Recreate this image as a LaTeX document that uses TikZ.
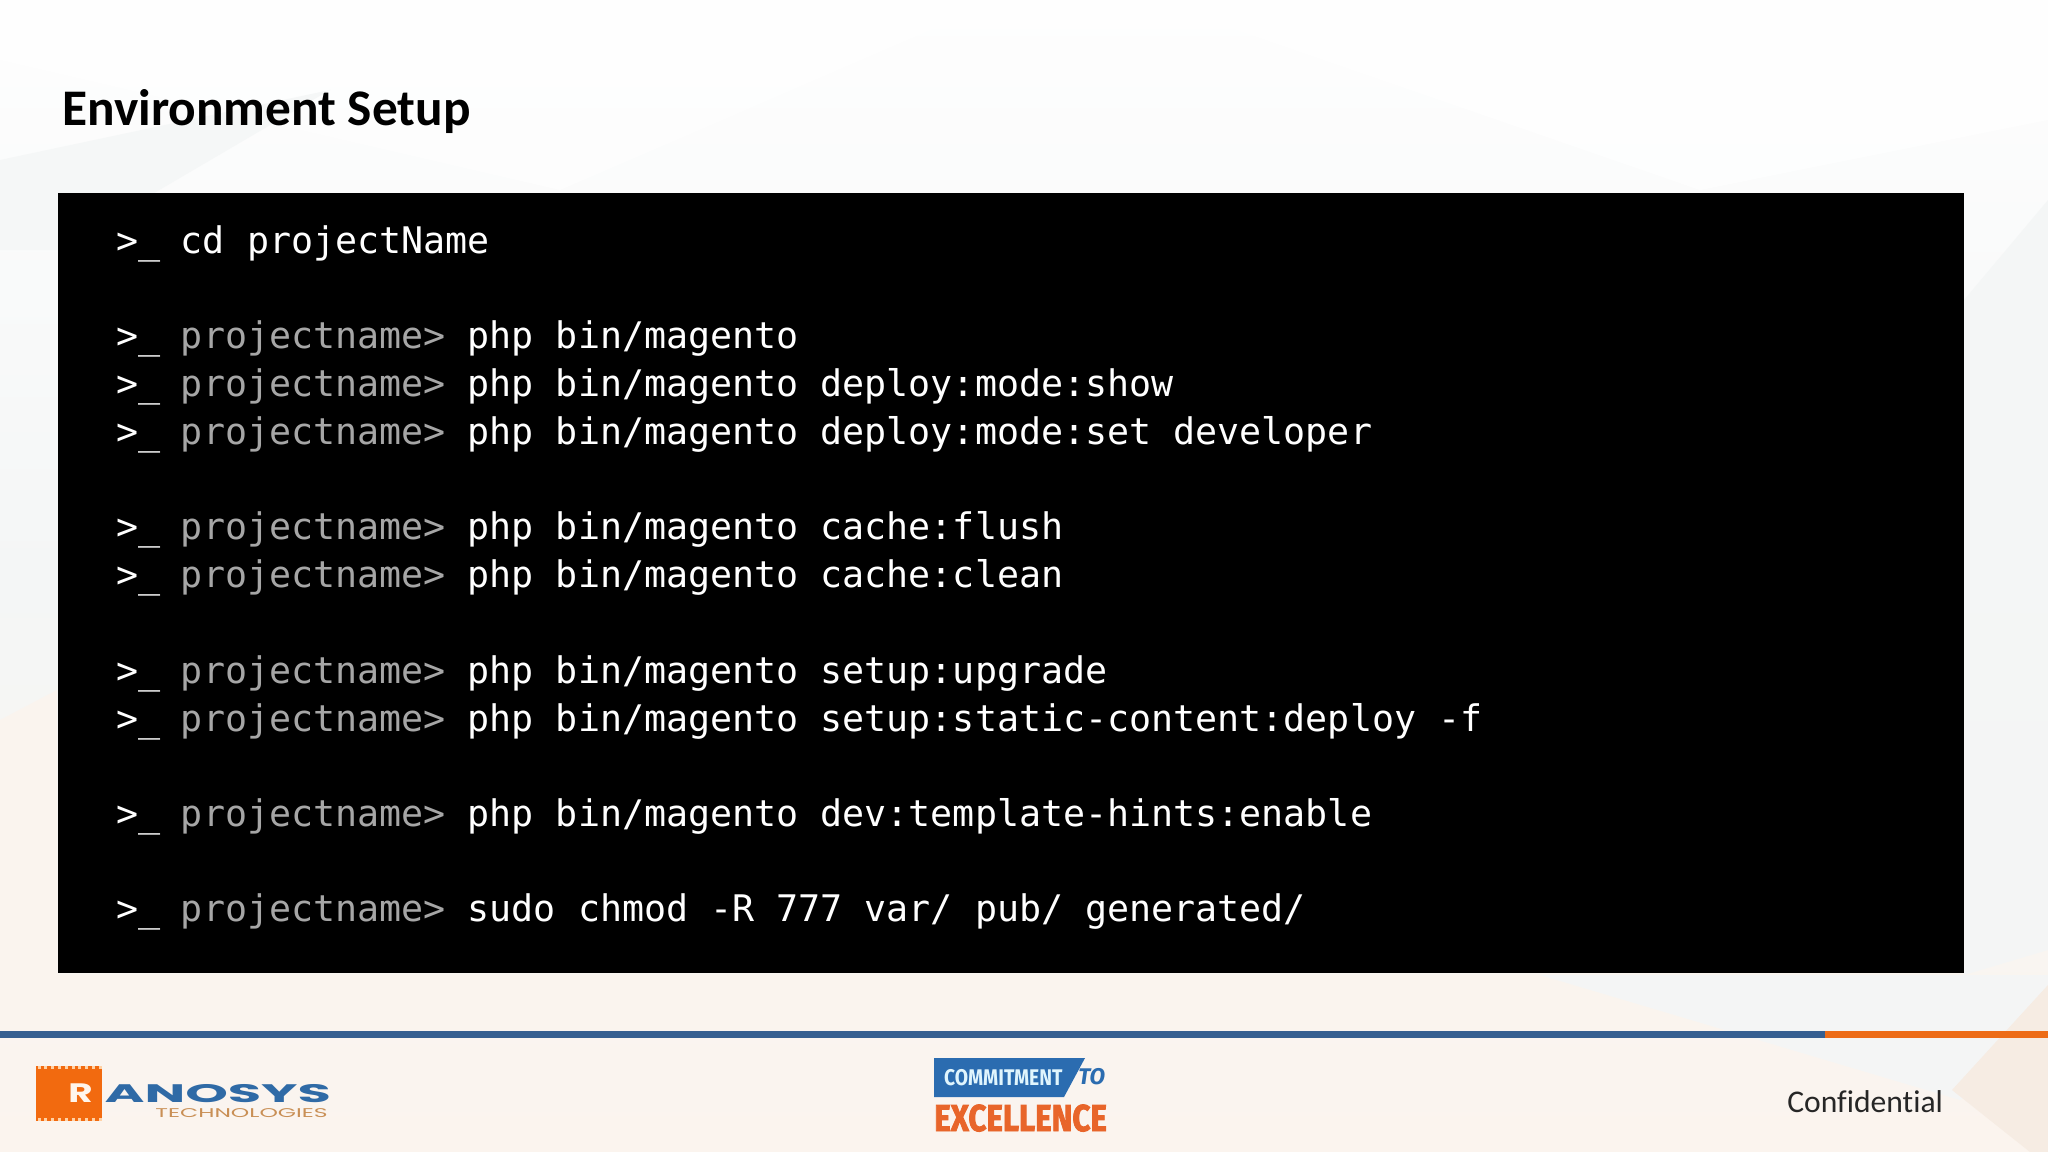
\documentclass[tikz,border=0pt]{standalone}
\usepackage{fontspec}
\setmainfont[Ligatures=NoCommon]{Carlito}
\newfontfamily\codefont{DejaVu Sans Mono}
\newfontfamily\logofont{Poppins}
\newfontfamily\heavyfont{Fira Sans}
\newfontfamily\fatfont[FakeBold=2.5]{Fira Sans}
\definecolor{promptgrey}{HTML}{A6A6A6}
\definecolor{barblue}{HTML}{365F91}
\definecolor{barorange}{HTML}{ED6C17}
\definecolor{logoorange}{HTML}{F26A0F}
\definecolor{logoblue}{HTML}{2F6AA6}
\definecolor{logotan}{HTML}{C98F55}
\definecolor{badgeblue}{HTML}{2B6CB0}
\definecolor{badgeorange}{HTML}{E8652A}
\definecolor{bgtop}{HTML}{FEFEFE}
\definecolor{bgmid}{HTML}{F4F6F6}
\definecolor{bgbot}{HTML}{FBF4EE}
\definecolor{bgpeach}{HTML}{F6ECE3}
\newcommand{\promptmark}{\hspace{1.5pt}>\_\hspace{-1.5pt}}
\newcommand{\cmdline}[3]{%
  \node[codeline] (#1) at (114.5,#2) {\textcolor{white}{\promptmark} \textcolor{promptgrey}{projectname>} #3};}
\tikzset{
  codeline/.style={anchor=base west,inner sep=0pt,text=white,font=\codefont\fontsize{27.48pt}{33pt}\selectfont},
  facet/.style={draw=none,fill=#1},
}
\begin{document}
\begin{tikzpicture}[x=0.75pt,y=-0.75pt]
\useasboundingbox (0,0) rectangle (2048,1152);
\shade[top color=bgtop,bottom color=bgbot,middle color=bgmid,shading angle=0] (0,0) rectangle (2048,1152);
% pale background facets
\fill[facet=white,opacity=.6] (0,0) -- (1000,0) -- (560,190) -- (0,60) -- cycle;
\fill[facet=white,opacity=.7] (1150,0) -- (2048,0) -- (2048,120) -- (1700,190) -- cycle;
\fill[facet=bgmid,opacity=.8] (0,160) -- (330,90) -- (57,250) -- (0,250) -- cycle;
\fill[facet=bgbot,opacity=.9] (0,720) -- (57,690) -- (57,1000) -- (0,1000) -- cycle;
\fill[facet=bgbot,opacity=.8] (0,975) rectangle (2048,1030);
\fill[facet=bgmid,opacity=.9] (1540,975) -- (2048,975) -- (2048,1040) -- (1960,1100) -- cycle;
\fill[facet=bgmid,opacity=.9] (1964,300) -- (2048,200) -- (2048,950) -- (1964,975) -- cycle;
\fill[facet=bgpeach] (2048,985) -- (2048,1152) -- (2030,1152) -- (1952,1090) -- cycle;
% title
\node[anchor=base west,inner sep=0pt,font=\bfseries\fontsize{38.5pt}{46pt}\selectfont,text=black] (title) at (62,126) {Environment Setup};
% terminal panel
\node[draw=none,fill=black,minimum width=1906.5*0.75pt,minimum height=780*0.75pt,anchor=north west,inner sep=0pt] (panel) at (57.5,192.5) {};
\node[codeline] (l1) at (114.5,253.2) {\promptmark{} cd projectName};
\cmdline{l2}{348.2}{php bin/magento}
\cmdline{l3}{396.2}{php bin/magento deploy:mode:show}
\cmdline{l4}{444.2}{php bin/magento deploy:mode:set developer}
\cmdline{l5}{539.7}{php bin/magento cache:flush}
\cmdline{l6}{587.7}{php bin/magento cache:clean}
\cmdline{l7}{683.2}{php bin/magento setup:upgrade}
\cmdline{l8}{731.2}{php bin/magento setup:static-content:deploy -f}
\cmdline{l9}{826.7}{php bin/magento dev:template-hints:enable}
\cmdline{l10}{921.7}{sudo chmod -R 777 var/ pub/ generated/}
% footer bars
\fill[barblue] (0,1030.5) rectangle (1825,1038);
\fill[barorange] (1825,1030.5) rectangle (2048,1038);
\node[anchor=base west,inner sep=0pt,font=\fontsize{23.7pt}{28pt}\selectfont,text=black!85] (conf) at (1787,1112) {Confidential};
% Ranosys logo
\fill[logoorange] (36,1066) rectangle (102,1121);
\foreach \i in {0,...,9}{
  \fill[orange!35!white] (37.5+\i*6.8,1066) rectangle (40.5+\i*6.8,1069);
  \fill[orange!35!white] (37.5+\i*6.8,1118) rectangle (40.5+\i*6.8,1121);
}
\node[inner sep=0pt,anchor=base west,text=white!92!orange,font=\logofont\bfseries\fontsize{20pt}{22pt}\selectfont,xscale=1.4] (logoR) at (68,1102) {R};
\node[inner sep=0pt,anchor=base west,text=logoblue,font=\logofont\bfseries\fontsize{19pt}{22pt}\selectfont,xscale=2.14] (logoA) at (104,1102) {ANOSYS};
\node[inner sep=0pt,anchor=base west,text=logotan,font=\logofont\fontsize{9.5pt}{11pt}\selectfont,xscale=1.85] (logoT) at (155,1117) {TECHNOLOGIES};
% Commitment badge
\fill[badgeblue] (934,1058) -- (1085,1058) -- (1064,1097) -- (934,1097) -- cycle;
\node[inner sep=0pt,anchor=base west,text=white!88!cyan,font=\heavyfont\bfseries\fontsize{17pt}{20pt}\selectfont,xscale=.85] (commit) at (944,1085) {COMMITMENT};
\node[inner sep=0pt,anchor=base west,text=badgeblue,font=\heavyfont\bfseries\itshape\fontsize{17pt}{20pt}\selectfont] (to) at (1078,1084) {TO};
\node[inner sep=0pt,anchor=base west,text=badgeorange,font=\fatfont\bfseries\fontsize{28pt}{30pt}\selectfont,xscale=.84] (excel) at (934,1131) {EXCELLENCE};
\end{tikzpicture}
\end{document}
